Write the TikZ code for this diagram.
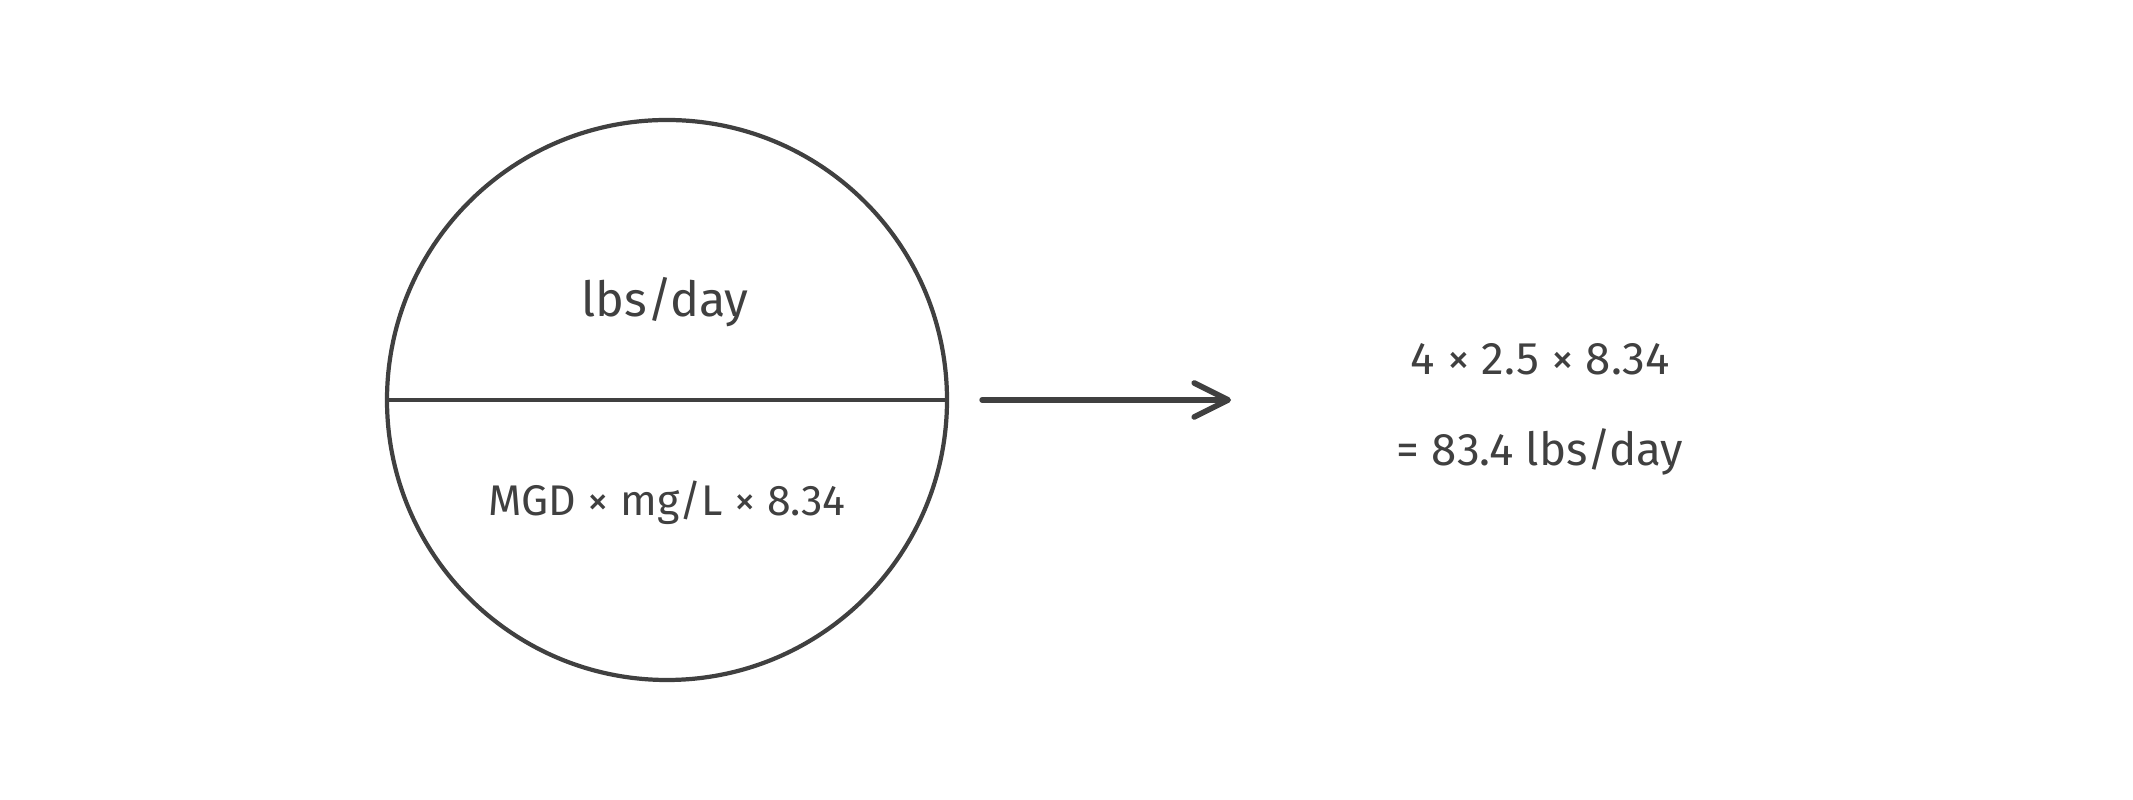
\documentclass[tikz,border=0pt]{standalone}
\usepackage{fontspec}
\setmainfont{Fira Sans}
\usetikzlibrary{arrows.meta}
\definecolor{ink}{HTML}{404040}
\tikzset{
    stroke/.style={draw=ink, line width=1.2pt},
    big/.style={text=ink, font=\fontsize{13.8}{17}\selectfont},
    small/.style={text=ink, font=\fontsize{12.2}{15}\selectfont},
    side/.style={text=ink, font=\fontsize{13}{16}\selectfont},
}

\begin{document}
\begin{tikzpicture}
    \useasboundingbox (0, 0) rectangle (21.33, 8);
    \begin{scope}
        \node[stroke, circle, minimum size=5.6cm, inner sep=0pt] (disk) at (6.67, 4) {};
        \draw[stroke] (disk.west) -- (disk.east);
        \node[big] (rate) at (6.65, 4.98) {lbs/day};
        \node[small] (formula) at (6.67, 2.97) {MGD × mg/L × 8.34};
    \end{scope}
    \begin{scope}
        \coordinate (tip) at (12.31, 4);
        \draw[stroke, line width=1.6pt, line cap=round,
              -{Straight Barb[length=0.34cm, width=0.34cm, line cap=round, line join=round]}]
            ([xshift=0.33cm]disk.east) -- (tip);
        \node[side] (product) at (15.40, 4.41) {4 × 2.5 × 8.34};
        \node[side] (result) at (15.40, 3.48) {= 83.4 lbs/day};
    \end{scope}
\end{tikzpicture}
\end{document}
